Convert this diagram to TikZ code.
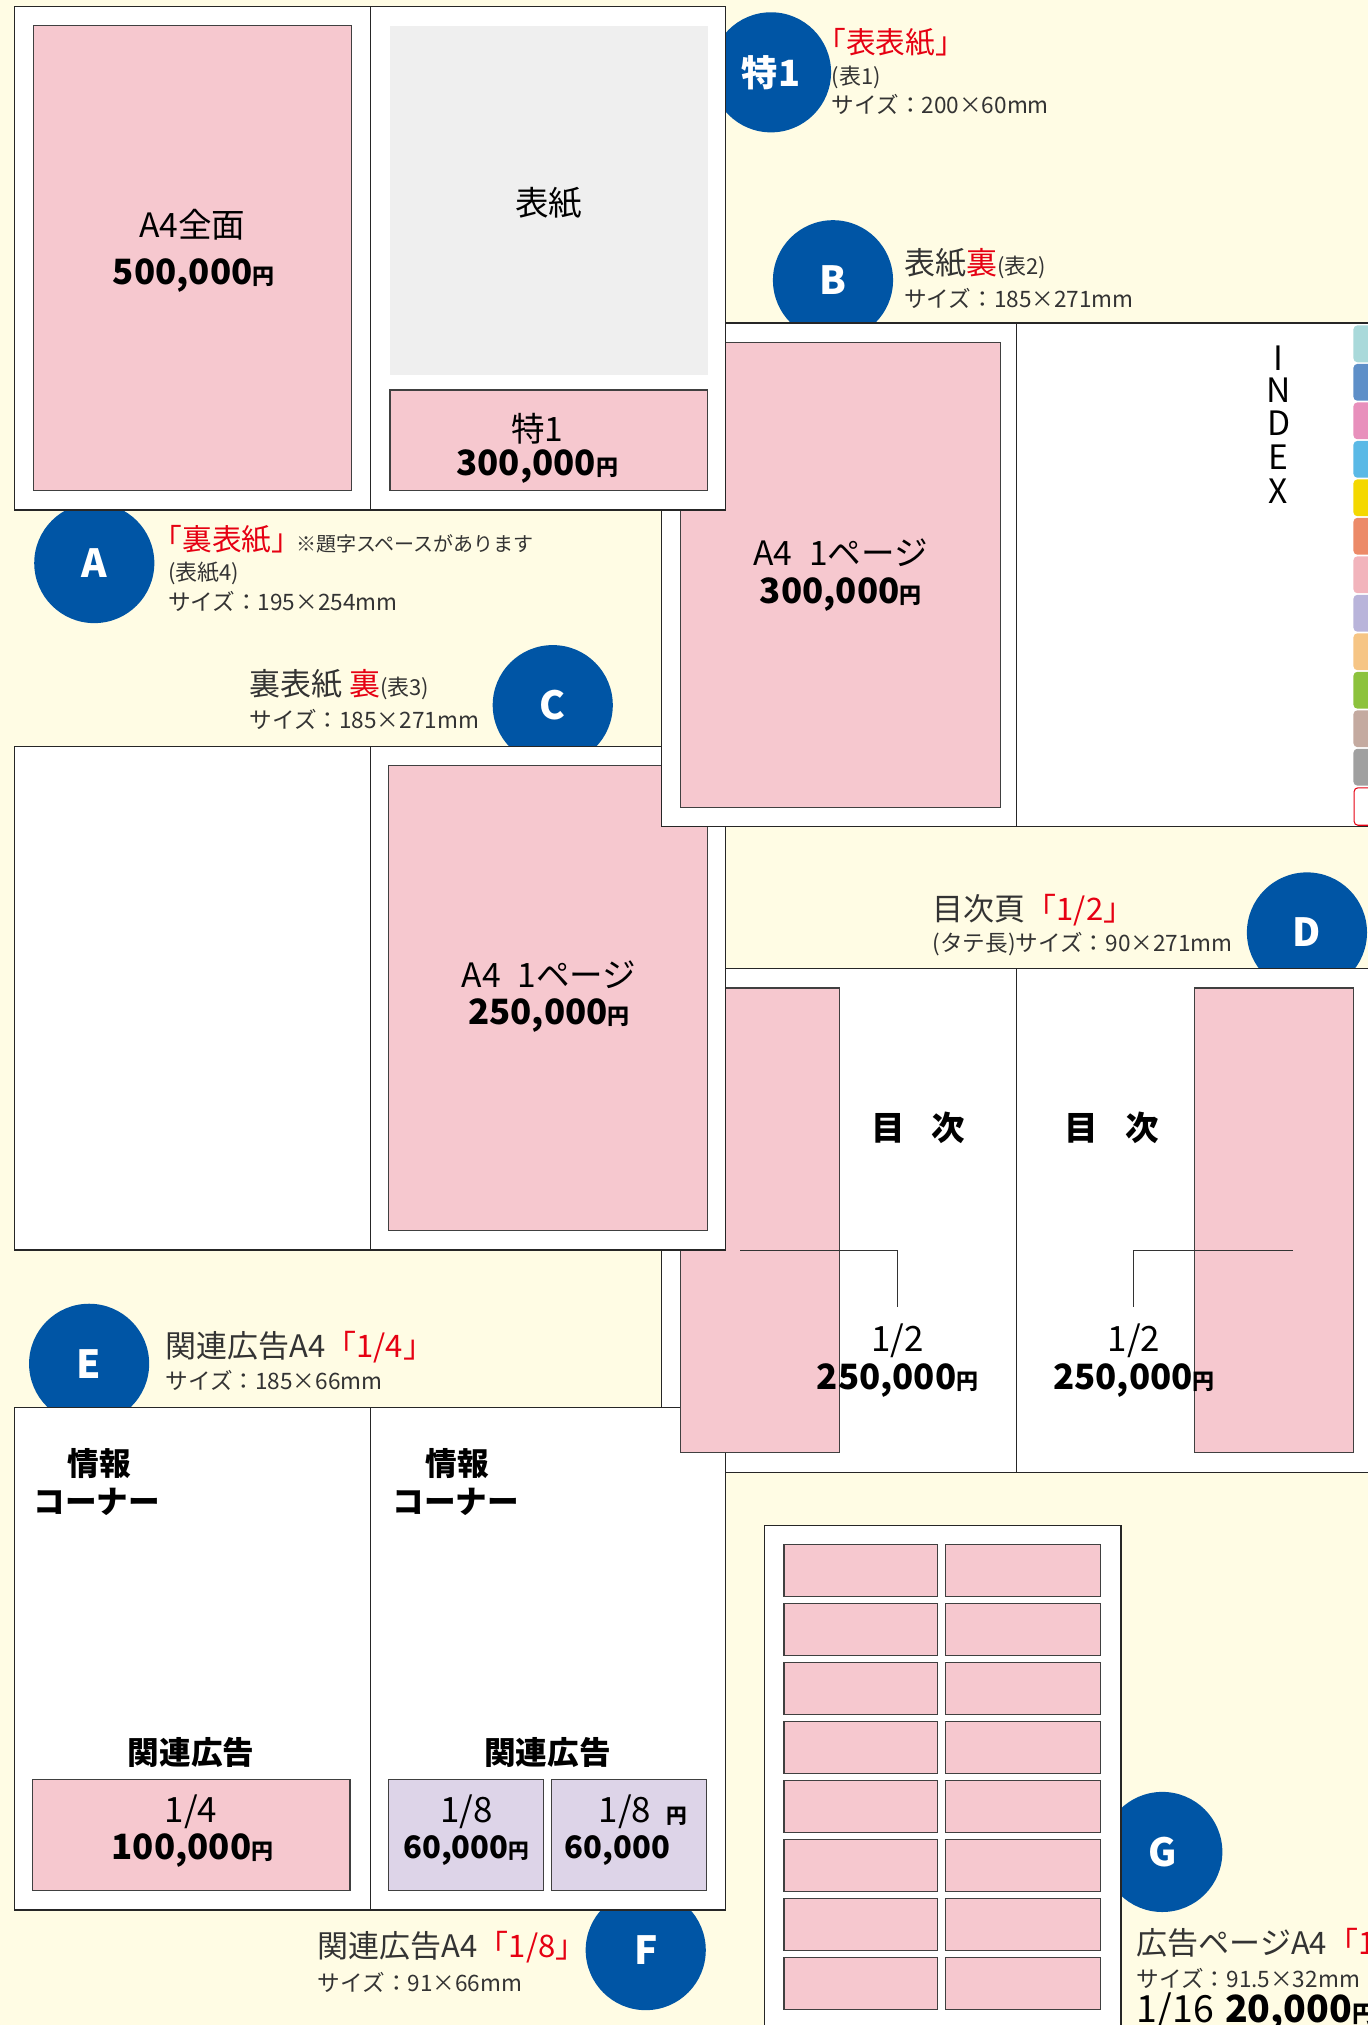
\documentclass[tikz,border=0pt]{standalone}
\usepackage{fontspec}
\setmainfont{Noto Sans CJK JP}
\definecolor{bgyellow}{RGB}{255,252,228}
\definecolor{badgeblue}{RGB}{0,85,165}
\definecolor{adpink}{RGB}{246,200,207}
\definecolor{adgray}{RGB}{239,239,239}
\definecolor{adpurple}{RGB}{221,212,232}
\definecolor{adred}{RGB}{230,0,18}
\definecolor{labelgray}{RGB}{51,51,51}
\definecolor{tabA}{RGB}{169,217,218}
\definecolor{tabB}{RGB}{94,143,200}
\definecolor{tabC}{RGB}{232,144,188}
\definecolor{tabD}{RGB}{90,185,230}
\definecolor{tabE}{RGB}{244,216,0}
\definecolor{tabF}{RGB}{236,138,104}
\definecolor{tabG}{RGB}{242,180,188}
\definecolor{tabH}{RGB}{185,180,218}
\definecolor{tabI}{RGB}{246,197,133}
\definecolor{tabJ}{RGB}{140,194,60}
\definecolor{tabK}{RGB}{196,170,160}
\definecolor{tabL}{RGB}{160,160,160}
\newcommand\FSz[1]{\fontsize{#1}{#1}\selectfont}
\newcommand\yen[1]{{\FSz{#1}円}}
\tikzset{
  panel/.style={draw=black!85, fill=white, line width=1pt},
  divider/.style={draw=black!85, line width=1pt},
  pinkbox/.style={draw=black!75, fill=adpink, line width=0.9pt},
  purplebox/.style={draw=black!75, fill=adpurple, line width=0.9pt},
  leader/.style={draw=black!80, line width=0.9pt},
  badge/.style={circle, fill=badgeblue, minimum size=93pt, inner sep=0pt, text=white, font=\FSz{30}\bfseries},
  boxtxt/.style={inner sep=0pt, anchor=center, text=black, font=\FSz{26}},
  boldtxt/.style={inner sep=0pt, anchor=center, text=black, font=\FSz{27}\bfseries},
  heavytxt/.style={inner sep=0pt, anchor=center, text=black, font=\FSz{24.5}\bfseries},
  labeltxt/.style={inner sep=0pt, anchor=west, text=labelgray, font=\FSz{24}},
  sizetxt/.style={inner sep=0pt, anchor=west, text=labelgray, font=\FSz{17.5}},
  smalltxt/.style={inner sep=0pt, anchor=west, text=labelgray, font=\FSz{17}},
  idxtxt/.style={inner sep=0pt, anchor=center, text=black, font=\FSz{26}},
  tabshape/.style={fill=#1, rounded corners=3pt},
}
\begin{document}
\begin{tikzpicture}[x=1pt,y=-1pt]
\useasboundingbox (0,0) rectangle (1059,1568);
\fill[bgyellow] (0,0) rectangle (1059,1568);

% ---- badges (behind panels)
\node[badge, font=\FSz{28}\bfseries] (b1) at (597,56) {特1};
\node[badge] (bA) at (73,436) {A};
\node[badge] (bB) at (645,217) {B};
\node[badge] (bC) at (428,546) {C};
\node[badge] (bD) at (1012,722) {D};
\node[badge] (bE) at (69,1056) {E};
\node[badge] (bF) at (500,1510) {F};
\node[badge] (bG) at (900,1434) {G};

% ---- labels
\node[labeltxt, text=adred, font=\FSz{23}] (l1a) at (632,33) {「表表紙」};
\node[smalltxt] (l1b) at (644,60) {(表1)};
\node[sizetxt] (l1c) at (644,81) {サイズ：200×60mm};

\node[labeltxt] (lBa) at (700,204) {表紙{\color{adred}裏}{\FSz{17}(表2)}};
\node[sizetxt] (lBb) at (700,231) {サイズ：185×271mm};

\node[labeltxt, text=adred, font=\FSz{23}] (lAa) at (118,418) {「裏表紙」};
\node[smalltxt, font=\FSz{15.5}] (lAc) at (229,421) {※題字スペースがあります};
\node[smalltxt] (lAd) at (130,444) {(表紙4)};
\node[sizetxt] (lAe) at (130,466) {サイズ：195×254mm};

\node[labeltxt] (lCa) at (193,530) {裏表紙 {\color{adred}裏}{\FSz{17}(表3)}};
\node[sizetxt] (lCb) at (193,557) {サイズ：185×271mm};

\node[labeltxt] (lDa) at (722,705) {目次頁{\color{adred}「1/2」}};
\node[sizetxt] (lDb) at (722,731) {(タテ長)サイズ：90×271mm};

\node[labeltxt] (lEa) at (128,1043) {関連広告A4{\color{adred}「1/4」}};
\node[sizetxt] (lEb) at (128,1069) {サイズ：185×66mm};

\node[labeltxt] (lFa) at (246,1508) {関連広告A4{\color{adred}「1/8」}};
\node[sizetxt] (lFb) at (246,1535) {サイズ：91×66mm};

\node[labeltxt] (lGa) at (880,1505) {広告ページA4{\color{adred}「1/16」}};
\node[sizetxt] (lGb) at (880,1532) {サイズ：91.5×32mm};
\node[labeltxt, text=black, font=\FSz{29}] (lGc) at (880,1558) {1/16\hspace{0.3em}{\bfseries 20,000\yen{18}}};

% ---- panel D (outer frame, under E)
\draw[panel] (512,750) rectangle (1075,1140);
\draw[divider] (787,750) -- (787,1140);

% ---- panel E
\draw[panel] (11,1090) rectangle (562,1479);
\draw[divider] (287,1090) -- (287,1479);
\node[heavytxt] (eI1) at (77,1133) {情報};
\node[heavytxt] (eC1) at (75,1163) {コーナー};
\node[heavytxt] (eI2) at (354,1133) {情報};
\node[heavytxt] (eC2) at (353,1163) {コーナー};
\node[heavytxt] (eK1) at (148,1357) {関連広告};
\node[heavytxt] (eK2) at (424,1357) {関連広告};
\draw[pinkbox] (25,1378) rectangle (271,1464);
\node[boxtxt, font=\FSz{27}] (eF1) at (148,1403) {1/4};
\node[boldtxt] (eP1) at (149,1433) {100,000\yen{17}};
\draw[purplebox] (301,1378) rectangle (421,1464);
\draw[purplebox] (427,1378) rectangle (547,1464);
\node[boxtxt, font=\FSz{27}] (eF2) at (361,1403) {1/8};
\node[boldtxt, font=\FSz{24}\bfseries] (eP2) at (361,1433) {60,000\yen{16}};
\node[boxtxt, font=\FSz{27}] (eF3) at (484,1403) {1/8};
\node[boldtxt, font=\FSz{16}\bfseries] (eY3) at (524,1406) {円};
\node[boldtxt, font=\FSz{24}\bfseries] (eP3) at (478,1433) {60,000};

% ---- panel D contents (above E)
\draw[pinkbox] (527,765) rectangle (650,1125);
\draw[pinkbox] (925,765) rectangle (1048,1125);
\node[heavytxt, font=\FSz{26}\bfseries] (dT1) at (711,873) {目\hspace{0.8em}次};
\node[heavytxt, font=\FSz{26}\bfseries] (dT2) at (861,873) {目\hspace{0.8em}次};
\coordinate (dl1) at (573,968); \coordinate (dl2) at (695,1012);
\coordinate (dr1) at (1001,968); \coordinate (dr2) at (878,1012);
\draw[leader] (dl1) -| (dl2);
\draw[leader] (dr1) -| (dr2);
\node[boxtxt, font=\FSz{27}] (dF1) at (695,1038) {1/2};
\node[boldtxt] (dP1) at (695,1069) {250,000\yen{17}};
\node[boxtxt, font=\FSz{27}] (dF2) at (878,1038) {1/2};
\node[boldtxt] (dP2) at (878,1069) {250,000\yen{17}};

% ---- panel C
\draw[panel] (11,578) rectangle (562,968);
\draw[divider] (287,578) -- (287,968);
\draw[pinkbox] (301,593) rectangle (548,953);
\node[boxtxt] (cT1) at (425,755) {A4\hspace{0.5em}1ページ};
\node[boldtxt] (cT2) at (425,786) {250,000\yen{17}};

% ---- panel B (above C)
\draw[panel] (512,250) rectangle (1075,640);
\draw[divider] (787,250) -- (787,640);
\draw[pinkbox] (527,265) rectangle (775,625);
\node[boxtxt] (bT1) at (651,428) {A4\hspace{0.5em}1ページ};
\node[boldtxt] (bT2) at (651,460) {300,000\yen{17}};
\foreach \ch/\yy [count=\k] in {I/277,N/302,D/328,E/354,X/380}
  \node[idxtxt] (idx\k) at (990,\yy) {\ch};
\foreach \c [count=\k from 0] in {tabA,tabB,tabC,tabD,tabE,tabF,tabG,tabH,tabI,tabJ,tabK,tabL}
  \fill[tabshape=\c] (1048,252+\k*29.8) rectangle (1068,252+\k*29.8+28.5);
\filldraw[fill=white, draw=adred, line width=0.8pt, rounded corners=3pt] (1048.5,610) rectangle (1068,639);

% ---- panel A (on top)
\draw[panel] (11,5) rectangle (562,395);
\draw[divider] (287,5) -- (287,395);
\draw[pinkbox] (26,20) rectangle (272,380);
\fill[adgray] (302,20) rectangle (548,290);
\draw[pinkbox] (302,302) rectangle (548,380);
\node[boxtxt] (aT1) at (149,174) {A4全面};
\node[boldtxt] (aT2) at (150,213) {500,000\yen{17}};
\node[boxtxt] (aT3) at (425,157) {表紙};
\node[boxtxt] (aT4) at (416,332) {特1};
\node[boldtxt] (aT5) at (416,361) {300,000\yen{17}};

% ---- panel G
\draw[panel] (592,1181) rectangle (868,1590);
\foreach \r in {0,...,7}{
  \draw[pinkbox] (607,1196+\r*45.7) rectangle (726,1236+\r*45.7);
  \draw[pinkbox] (732,1196+\r*45.7) rectangle (852,1236+\r*45.7);
}
\end{tikzpicture}
\end{document}
